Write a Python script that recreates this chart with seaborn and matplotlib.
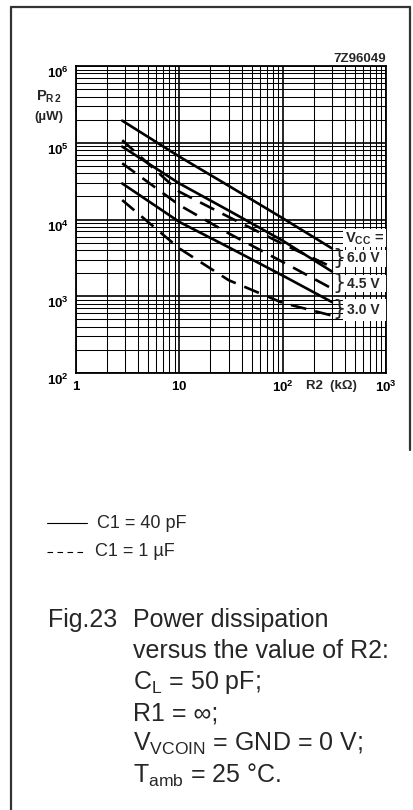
import matplotlib
matplotlib.use("Agg")
import matplotlib.pyplot as plt
import matplotlib.ticker as mticker
from matplotlib.lines import Line2D
from matplotlib.patches import Rectangle
import seaborn as sns
import pandas as pd

# R2 in kOhm, P_R2 in uW
r2_kohm = [2.8, 10, 30, 100, 300]
p_6v0_40pf = [1.94e5, 6.6e4, 2.75e4, 1.04e4, 4.2e3]
p_6v0_1uf = [1.08e5, 2.3e4, 1.08e4, 4.8e3, 2.4e3]
p_4v5_40pf = [8.9e4, 2.95e4, 1.31e4, 5.3e3, 2.1e3]
p_4v5_1uf = [5.4e4, 1.54e4, 6.6e3, 2.8e3, 1.26e3]
p_3v0_40pf = [2.95e4, 9.3e3, 4.35e3, 1.86e3, 8.4e2]
p_3v0_1uf = [1.79e4, 4.2e3, 1.62e3, 8.2e2, 5.6e2]

x_ticks = [1, 10, 100, 1000]
x_labels = [r"$\mathbf{1}$", r"$\mathbf{10}$", r"$\mathbf{10^{2}}$", r"$\mathbf{10^{3}}$"]
y_ticks = [1e2, 1e3, 1e4, 1e5, 1e6]
y_labels = [r"$\mathbf{10^{2}}$", r"$\mathbf{10^{3}}$", r"$\mathbf{10^{4}}$",
            r"$\mathbf{10^{5}}$", r"$\mathbf{10^{6}}$"]
vcc_labels = ["6.0 V", "4.5 V", "3.0 V"]

curves = {
    ("6.0 V", "40 pF"): p_6v0_40pf,
    ("6.0 V", "1 uF"): p_6v0_1uf,
    ("4.5 V", "40 pF"): p_4v5_40pf,
    ("4.5 V", "1 uF"): p_4v5_1uf,
    ("3.0 V", "40 pF"): p_3v0_40pf,
    ("3.0 V", "1 uF"): p_3v0_1uf,
}
rows = []
for (vcc, c1), vals in curves.items():
    for r, p in zip(r2_kohm, vals):
        rows.append({"curve": vcc + c1, "vcc": vcc, "C1": c1, "R2": r, "P": p})
df = pd.DataFrame(rows)

sns.set_style("white")
plt.rcParams["font.family"] = ["Liberation Sans", "DejaVu Sans"]
plt.rcParams["mathtext.fontset"] = "custom"
plt.rcParams["mathtext.rm"] = "Liberation Sans"
plt.rcParams["mathtext.bf"] = "Liberation Sans:bold"
plt.rcParams["mathtext.it"] = "Liberation Sans:italic"

W, H = 414, 810
fig = plt.figure(figsize=(W / 100, H / 100), dpi=100)
fig.patch.set_facecolor("white")


def fx(px):
    return px / W


def fy(py):
    return 1 - py / H


ax = fig.add_axes([fx(76), fy(373), fx(310), 307 / H])

sns.lineplot(data=df, x="R2", y="P", units="curve", estimator=None, style="C1",
             dashes={"40 pF": "", "1 uF": (6, 3.5)}, color="black",
             linewidth=1.9, legend=False, ax=ax, zorder=3)

ax.set_xscale("log")
ax.set_yscale("log")
ax.set_xlim(1, 1000)
ax.set_ylim(1e2, 1e6)
ax.xaxis.set_major_locator(mticker.FixedLocator(x_ticks))
ax.yaxis.set_major_locator(mticker.FixedLocator(y_ticks))
ax.xaxis.set_minor_locator(mticker.LogLocator(base=10, subs=range(2, 10)))
ax.yaxis.set_minor_locator(mticker.LogLocator(base=10, subs=range(2, 10)))
ax.xaxis.set_minor_formatter(mticker.NullFormatter())
ax.yaxis.set_minor_formatter(mticker.NullFormatter())
ax.set_xticklabels(x_labels)
ax.set_yticklabels(y_labels)
plt.setp(ax.get_yticklabels(), va="top")
ax.tick_params(which="both", length=0, labelsize=9.5, colors="black")
ax.tick_params(axis="x", pad=5)
ax.tick_params(axis="y", pad=5)
ax.grid(which="major", color="black", linewidth=1.2)
ax.grid(which="minor", color="black", linewidth=0.75)
ax.set_axisbelow(True)
for s in ax.spines.values():
    s.set_color("black")
    s.set_linewidth(1.3)
ax.set_xlabel("")
ax.set_ylabel("")

# axis titles and drawing number
fig.text(fx(36), fy(97), r"$\mathbf{P_{R\,2}}$", fontsize=10.5, ha="left", va="center")
fig.text(fx(34), fy(117), "(\u00b5W)", fontsize=9.5, fontweight="bold", ha="left", va="center")
fig.text(fx(306), fy(386), "R2  (k\u03a9)", fontsize=9.5, fontweight="bold", ha="left", va="center")
fig.text(fx(386), fy(59), "7Z96049", fontsize=9.5, fontweight="bold", ha="right", va="center")

# Vcc label boxes on the right of the curves
boxes = [(229, 247), (250, 267), (275, 292), (299, 321)]
for top, bot in boxes:
    fig.add_artist(Rectangle((fx(343), fy(bot)), fx(386) - fx(343), (bot - top) / H,
                             transform=fig.transFigure, facecolor="white",
                             edgecolor="none", zorder=2))
fig.text(fx(345), fy(239), r"$\mathbf{V_{CC}}$ =", fontsize=10.5, fontweight="bold",
         ha="left", va="center", zorder=3)
for lbl, yc in zip(vcc_labels, [258, 284, 310]):
    fig.text(fx(347), fy(yc), lbl, fontsize=10, fontweight="bold",
             ha="left", va="center", zorder=3)
for yc in [258, 283, 309]:
    fig.text(fx(339), fy(yc), "}", fontsize=15, family="DejaVu Sans",
             ha="center", va="center", zorder=3)

# legend keys
fig.add_artist(Line2D([fx(47), fx(87)], [fy(523), fy(523)], color="black", linewidth=0.8))
fig.add_artist(Line2D([fx(47), fx(87)], [fy(552), fy(552)], color="black", linewidth=0.8,
                      dashes=(5, 4)))
fig.text(fx(97), fy(523), "C1 = 40 pF", fontsize=13, ha="left", va="center")
fig.text(fx(95), fy(552), "C1 = 1 \u00b5F", fontsize=13, ha="left", va="center")

# caption
cap = 18
fig.text(fx(48), fy(620), "Fig.23", fontsize=cap, ha="left", va="center")
caption_lines = [
    "Power dissipation",
    "versus the value of R2:",
    r"C$_\mathregular{L}$ = 50 pF;",
    "R1 = \u221e;",
    r"V$_\mathregular{VCOIN}$ = GND = 0 V;",
    "T$_\\mathregular{amb}$ = 25 \u00b0C.",
]
for i, line in enumerate(caption_lines):
    fig.text(fx(133), fy(620 + i * 31), line, fontsize=cap, ha="left", va="center")

# outer frame
fig.add_artist(Line2D([fx(11), fx(11)], [fy(7), -0.01], color="#333333", linewidth=1.6))
fig.add_artist(Line2D([fx(11), fx(410)], [fy(7), fy(7)], color="#333333", linewidth=1.6))
fig.add_artist(Line2D([fx(410), fx(410)], [fy(7), fy(450)], color="#333333", linewidth=1.6))

fig.savefig("out.png", dpi=100, facecolor="white")
